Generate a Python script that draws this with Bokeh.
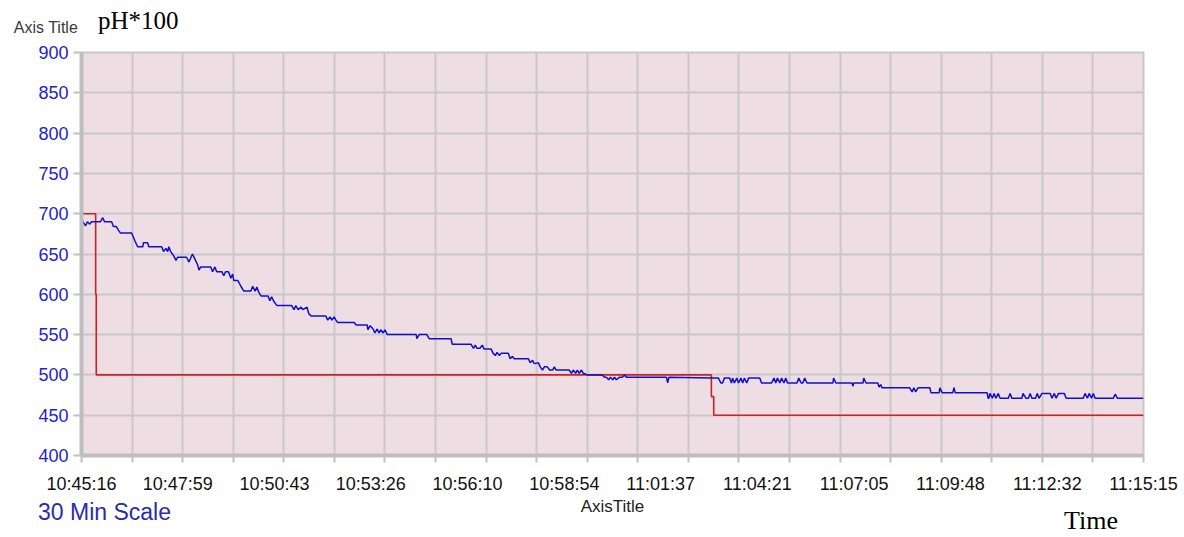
import numpy as np
from bokeh.plotting import figure
from bokeh.models import Range1d, FixedTicker, LinearAxis
from bokeh.embed import file_html
from bokeh.resources import INLINE

# ---------------- data ----------------
x_tick_labels = ["10:45:16", "10:47:59", "10:50:43", "10:53:26", "10:56:10", "10:58:54",
                 "11:01:37", "11:04:21", "11:07:05", "11:09:48", "11:12:32", "11:15:15"]
y_ticks = [400, 450, 500, 550, 600, 650, 700, 750, 800, 850, 900]

# blue series: seconds after 10:45:16, pH*100
blue_t = [0, 3, 7, 10, 14, 17, 32, 36, 39, 51, 54, 59, 63, 66, 85, 90, 95, 104, 105, 112, 114, 136,
          139, 143, 146, 148, 151, 156, 160, 163, 178, 182, 185, 188, 192, 197, 199, 202, 219, 222,
          226, 229, 238, 241, 244, 249, 253, 256, 258, 265, 270, 275, 287, 290, 294, 297, 300, 304,
          316, 319, 322, 326, 331, 356, 360, 363, 367, 372, 375, 382, 385, 389, 414, 417, 421, 424,
          428, 431, 434, 462, 465, 484, 485, 489, 494, 497, 501, 504, 507, 511, 514, 518, 567, 568,
          572, 585, 589, 626, 628, 660, 664, 667, 670, 675, 679, 682, 694, 697, 701, 704, 708, 711,
          723, 726, 730, 733, 757, 760, 764, 767, 774, 777, 781, 784, 789, 793, 798, 801, 804, 826,
          830, 833, 837, 840, 843, 847, 850, 857, 882, 886, 889, 893, 896, 900, 903, 906, 911, 916,
          920, 923, 991, 993, 995, 1067, 1079, 1083, 1086, 1089, 1098, 1101, 1103, 1106, 1110, 1113,
          1117, 1120, 1123, 1127, 1130, 1149, 1152, 1169, 1173, 1176, 1179, 1183, 1186, 1190, 1193,
          1196, 1212, 1215, 1219, 1222, 1225, 1229, 1273, 1274, 1278, 1305, 1307, 1308, 1324, 1325,
          1329, 1349, 1351, 1354, 1356, 1368, 1403, 1407, 1410, 1413, 1417, 1437, 1439, 1453, 1454,
          1458, 1476, 1478, 1480, 1534, 1536, 1537, 1539, 1543, 1546, 1549, 1553, 1556, 1570, 1573,
          1576, 1593, 1595, 1600, 1604, 1607, 1610, 1616, 1619, 1622, 1627, 1641, 1644, 1648, 1651,
          1655, 1665, 1668, 1697, 1700, 1704, 1707, 1711, 1714, 1717, 1748, 1751, 1755, 1799]
blue_ph = [694, 689, 685, 690, 687, 690, 690, 695, 690, 690, 684, 684, 679, 676, 676, 667, 659, 659,
           664, 664, 659, 659, 653, 657, 653, 659, 653, 648, 642, 646, 646, 640, 645, 650, 644, 636,
           630, 634, 634, 628, 634, 628, 628, 623, 628, 628, 620, 625, 617, 617, 610, 604, 604, 610,
           604, 609, 603, 598, 598, 592, 597, 591, 586, 586, 581, 586, 581, 584, 581, 584, 576, 573,
           573, 568, 572, 568, 572, 568, 565, 565, 562, 562, 556, 561, 557, 552, 557, 552, 556, 552,
           556, 550, 550, 545, 550, 550, 545, 545, 538, 538, 533, 537, 533, 533, 537, 532, 532, 527,
           524, 528, 524, 527, 527, 520, 523, 520, 520, 515, 518, 514, 515, 510, 506, 510, 510, 506,
           506, 510, 506, 506, 502, 506, 502, 506, 502, 506, 502, 500, 500, 497, 497, 494, 497, 494,
           497, 494, 497, 497, 500, 497, 497, 490, 497, 496, 496, 490, 490, 496, 496, 490, 496, 490,
           496, 490, 496, 490, 496, 490, 496, 496, 490, 490, 496, 490, 496, 490, 496, 490, 496, 490,
           490, 496, 490, 490, 496, 490, 490, 496, 490, 490, 486, 490, 490, 496, 490, 490, 485, 488,
           484, 484, 484, 479, 484, 479, 484, 484, 478, 478, 484, 478, 478, 484, 478, 478, 471, 471,
           477, 471, 477, 471, 477, 471, 471, 477, 471, 471, 477, 471, 471, 477, 471, 471, 477, 471,
           477, 477, 471, 477, 471, 477, 477, 471, 471, 477, 471, 477, 471, 477, 471, 471, 476, 471,
           471]

# red series (set point)
red_t = [0, 24, 24, 25, 25, 1067, 1067, 1071, 1071, 1799]
red_ph = [700, 700, 600, 600, 500, 500, 473, 473, 450, 450]

# ---------------- helpers ----------------
def to_sec(s):
    h, m, sec = (int(v) for v in s.split(":"))
    return h * 3600 + m * 60 + sec

t0 = to_sec(x_tick_labels[0])
label_pos = [to_sec(s) - t0 for s in x_tick_labels]
span = label_pos[-1]
grid_pos = [float(v) for v in np.linspace(0, span, 22)]

W, H = 1184, 537
BL, BR, BT, BB = 81, 41, 52, 81
p = figure(width=W, height=H, output_backend="svg", toolbar_location=None,
           x_range=Range1d(0, span), y_range=Range1d(y_ticks[0], y_ticks[-1]),
           min_border_left=BL, min_border_right=BR, min_border_top=BT, min_border_bottom=BB)

p.background_fill_color = "#eedde3"
p.border_fill_color = "white"
p.outline_line_color = "#c8c8c8"
p.outline_line_width = 2

# grids
p.xgrid.ticker = FixedTicker(ticks=grid_pos)
p.ygrid.ticker = FixedTicker(ticks=y_ticks)
for g in (p.xgrid[0], p.ygrid[0]):
    g.grid_line_color = "#c8c8c8"
    g.grid_line_width = 2

# x axis
xa = p.xaxis[0]
xa.ticker = FixedTicker(ticks=label_pos, minor_ticks=grid_pos)
xa.major_label_overrides = {pos: lab for pos, lab in zip(label_pos, x_tick_labels)}
xa.major_tick_out = 0
xa.major_tick_in = 0
xa.minor_tick_out = 7
xa.minor_tick_in = 0
xa.minor_tick_line_color = "#c0c0c0"
xa.minor_tick_line_width = 2
xa.axis_line_color = "#bebebe"
xa.axis_line_width = 4
xa.major_label_text_font = "Liberation Sans"
xa.major_label_text_font_size = "18px"
xa.major_label_text_color = "#111111"
xa.major_label_standoff = 11
xa.axis_label = "AxisTitle"
xa.axis_label_text_font = "Liberation Sans"
xa.axis_label_text_font_size = "17px"
xa.axis_label_text_font_style = "normal"
xa.axis_label_text_color = "#222222"
xa.axis_label_standoff = 0

# y axis
ya = p.yaxis[0]
ya.ticker = FixedTicker(ticks=y_ticks)
ya.minor_tick_out = 0
ya.minor_tick_in = 0
ya.major_tick_out = 8
ya.major_tick_in = 0
ya.major_tick_line_color = "#c0c0c0"
ya.major_tick_line_width = 2
ya.axis_line_color = "#bebebe"
ya.axis_line_width = 4
ya.major_label_text_font = "Liberation Sans"
ya.major_label_text_font_size = "18px"
ya.major_label_text_color = "#2222d0"
ya.major_label_standoff = 5

# series
p.line(red_t, red_ph, line_color="#cc2222", line_width=1.6)
p.line(blue_t, blue_ph, line_color="#1010cc", line_width=1.5)

# outer captions, drawn as single-label axes in the side panels (x = seconds on the time scale)
def caption_axis(side, pos, txt, font, size, color, standoff):
    ax = LinearAxis(ticker=FixedTicker(ticks=[pos], minor_ticks=[]),
                    major_label_overrides={pos: txt},
                    axis_line_color=None, major_tick_out=0, major_tick_in=0,
                    minor_tick_out=0, minor_tick_in=0,
                    major_label_text_font=font, major_label_text_font_size=size,
                    major_label_text_color=color, major_label_standoff=standoff)
    p.add_layout(ax, side)

# "Axis Title" sits left of the plot: anchor it on the frame edge and pad it on the right
caption_axis("above", 0, "Axis Title" + "\u00a0" * 16, "Liberation Sans", "16px", "#3a3a3a", 17)
caption_axis("above", 96, "pH*100", "Liberation Serif", "25px", "#000000", -18)
caption_axis("below", 39, "30 Min Scale", "Liberation Sans", "23px", "#2b2bb0", -20)
caption_axis("below", 1710, "Time", "Liberation Serif", "26px", "#000000", -22)

open("out.html", "w").write(file_html(p, INLINE))
